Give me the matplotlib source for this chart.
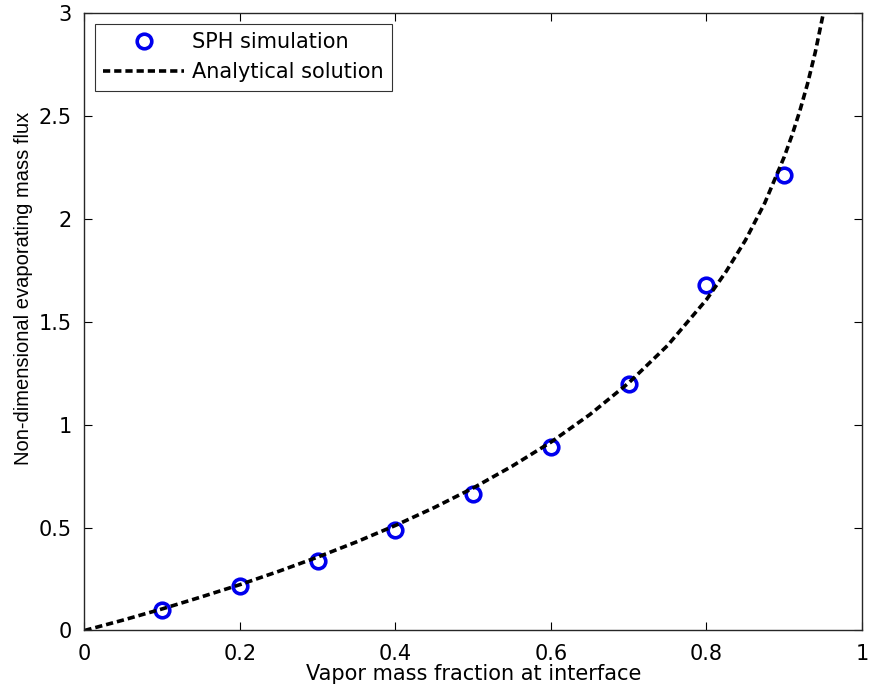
import matplotlib
matplotlib.use("Agg")
import matplotlib.pyplot as plt

# SPH simulation points
sph_x = [0.1, 0.2, 0.3, 0.4, 0.5, 0.6, 0.7, 0.8, 0.9]
sph_y = [0.098, 0.215, 0.34, 0.488, 0.663, 0.893, 1.2, 1.678, 2.215]

# Analytical solution
ana_x = [0.0, 0.05, 0.1, 0.15, 0.2, 0.25, 0.3, 0.35, 0.4, 0.45, 0.5, 0.55,
         0.6, 0.65, 0.7, 0.75, 0.8, 0.825, 0.85, 0.875, 0.9, 0.91, 0.92,
         0.93, 0.94, 0.95]
ana_y = [0.0, 0.051, 0.105, 0.163, 0.223, 0.288, 0.357, 0.431, 0.511, 0.598,
         0.693, 0.799, 0.916, 1.05, 1.204, 1.386, 1.609, 1.744, 1.897, 2.079,
         2.303, 2.408, 2.526, 2.659, 2.813, 2.996]

# horizontal text looks wide in the reference, DejaVu is closer in width
plt.rcParams["font.family"] = ["DejaVu Sans"]

fig = plt.figure(figsize=(8.7, 6.99), dpi=100)
ax = fig.add_axes([0.0971, 0.098, 0.8937, 0.8827])

ax.plot(sph_x, sph_y, "o", mfc="none", mec="#0000ee", mew=2.6, ms=10.5,
        label="SPH simulation")
ax.plot(ana_x, ana_y, color="black", lw=2.6, dashes=(2.0, 1.1),
        label="Analytical solution")

ax.set_xlim(0, 1)
ax.set_ylim(0, 3)
ax.set_xticks([0, 0.2, 0.4, 0.6, 0.8, 1])
ax.set_xticklabels(["0", "0.2", "0.4", "0.6", "0.8", "1"])
ax.set_yticks([0, 0.5, 1, 1.5, 2, 2.5, 3])
ax.set_yticklabels(["0", "0.5", "1", "1.5", "2", "2.5", "3"])
ax.tick_params(direction="in", top=True, right=True, labelsize=15, length=6,
               width=0.8)
ax.tick_params(axis="x", pad=10)
ax.tick_params(axis="y", pad=9)
for s in ax.spines.values():
    s.set_linewidth(1.0)
    s.set_color("#262626")

ax.set_xlabel("Vapor mass fraction at interface", fontsize=15, labelpad=0)
ax.set_ylabel("Non-dimensional evaporating mass flux", fontsize=14.5,
              family="Liberation Sans")
ax.yaxis.set_label_coords(-0.066, 0.555)

leg = ax.legend(loc="upper left", fontsize=15, frameon=True, fancybox=False,
                edgecolor="black", borderaxespad=0.5, handlelength=3.9,
                handletextpad=0.35, borderpad=0.4, labelspacing=0.48)
leg.get_frame().set_linewidth(0.8)

fig.savefig("out.png", dpi=100)
